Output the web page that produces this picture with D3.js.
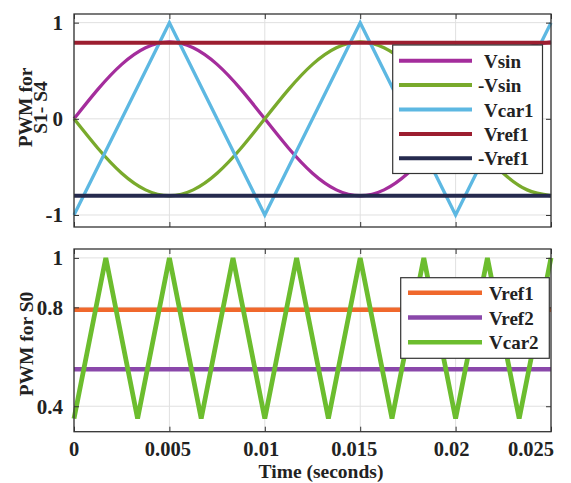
<!DOCTYPE html>
<html><head><meta charset="utf-8">
<script src="https://cdn.jsdelivr.net/npm/d3@7"></script>
<style>
html,body{margin:0;padding:0;background:#fff;}
svg{display:block;}
text{font-family:"Liberation Serif","Times New Roman",serif;font-weight:bold;fill:#222;}
</style></head>
<body>
<svg id="chart" width="571" height="483"></svg>
<script>
// ---- data ----
const sinTimes = [0,0.00125,0.0025,0.00375,0.005,0.00625,0.0075,0.00875,0.01,0.01125,0.0125,0.01375,0.015,0.01625,0.0175,0.01875,0.02,0.02125,0.0225,0.02375,0.025];
const vsinValues = [0,0.306,0.566,0.739,0.8,0.739,0.566,0.306,0,-0.306,-0.566,-0.739,-0.8,-0.739,-0.566,-0.306,0,0.306,0.566,0.739,0.8];
const negVsinValues = [0,-0.306,-0.566,-0.739,-0.8,-0.739,-0.566,-0.306,0,0.306,0.566,0.739,0.8,0.739,0.566,0.306,0,-0.306,-0.566,-0.739,-0.8];
const car1Times = [0,0.005,0.01,0.015,0.02,0.025];
const car1Values = [-1,1,-1,1,-1,1];
const vref1Top = 0.79;
const negVref1Top = -0.8;
const car2Times = [0,0.001667,0.003333,0.005,0.006667,0.008333,0.01,0.011667,0.013333,0.015,0.016667,0.018333,0.02,0.021667,0.023333,0.025];
const car2Values = [0.35,1,0.35,1,0.35,1,0.35,1,0.35,1,0.35,1,0.35,1,0.35,1];
const vref1Bottom = 0.79;
const vref2Bottom = 0.55;
const xTicks = [0,0.005,0.01,0.015,0.02,0.025];
const xTickLabels = ["0","0.005","0.01","0.015","0.02","0.025"];
const topYTicks = [-1,0,1];
const topYTickLabels = ["-1","0","1"];
const botYTicks = [0.4,0.8,1];
const botYTickLabels = ["0.4","0.8","1"];
const topLegendNames = ["Vsin","-Vsin","Vcar1","Vref1","-Vref1"];
const botLegendNames = ["Vref1","Vref2","Vcar2"];
const xTitle = "Time (seconds)";
const topYTitle = ["PWM for","S1- S4"];
const botYTitle = "PWM for S0";

// ---- layout ----
const svg = d3.select("#chart");
const L = 74, R = 551;
const x = d3.scaleLinear().domain([0,0.025]).range([L,R]);
const yTop = d3.scaleLinear().domain([-1.125,1.09]).range([227,14]);
const yBot = d3.scaleLinear().domain([0.297,1.036]).range([431.7,249]);

const colors = {
  vsin:"#a42d9c", nvsin:"#79aa2c", car1:"#5db8e2", vref1:"#9c1e30", nvref1:"#252a4e",
  bref1:"#f0682c", bref2:"#8a48aa", car2:"#6cbd2e"
};

function panel(y, yTicks, y0, y1){
  const g = svg.append("g");
  g.selectAll(".gx").data(xTicks).enter().append("line")
    .attr("x1",d=>x(d)).attr("x2",d=>x(d)).attr("y1",y0).attr("y2",y1)
    .attr("stroke","#e0e0e0").attr("stroke-width",1);
  g.selectAll(".gy").data(yTicks).enter().append("line")
    .attr("x1",L).attr("x2",R).attr("y1",d=>y(d)).attr("y2",d=>y(d))
    .attr("stroke","#e0e0e0").attr("stroke-width",1);
  return g;
}
function frame(y, yTicks, yLabels, y0, y1, showX){
  const g = svg.append("g");
  const tl = 5;
  g.append("g").attr("transform",`translate(0,${y1})`).call(d3.axisBottom(x).tickValues(xTicks).tickSize(-tl).tickFormat(""));
  g.append("g").attr("transform",`translate(0,${y0})`).call(d3.axisTop(x).tickValues(xTicks).tickSize(-tl).tickFormat(""));
  g.append("g").attr("transform",`translate(${L},0)`).call(d3.axisLeft(y).tickValues(yTicks).tickSize(-tl).tickFormat(""));
  g.append("g").attr("transform",`translate(${R},0)`).call(d3.axisRight(y).tickValues(yTicks).tickSize(-tl).tickFormat(""));
  g.selectAll(".domain").remove();
  g.selectAll(".tick line").attr("stroke","#333").attr("stroke-width",1);
  g.append("rect").attr("x",L).attr("y",y0).attr("width",R-L).attr("height",y1-y0)
    .attr("fill","none").attr("stroke","#333").attr("stroke-width",1.3);
  g.selectAll(".yl").data(yTicks).enter().append("text")
    .attr("x",L-11).attr("y",d=>y(d)).attr("dy","0.35em")
    .attr("text-anchor","end").attr("font-size",21)
    .text((d,i)=>yLabels[i]);
  if(showX){
    const dxs = [0,-1.5,-3.5,-6,-4,-20];
    g.selectAll(".xl").data(xTicks).enter().append("text")
      .attr("x",(d,i)=>x(d)+dxs[i]).attr("y",y1+24.5)
      .attr("text-anchor","middle").attr("font-size",20.5)
      .text((d,i)=>xTickLabels[i]);
  }
}

// ---- top panel ----
panel(yTop, topYTicks, 14, 227);
const gt = svg.append("g");
const sinLine = (vals)=>d3.line().curve(d3.curveNatural).x((d,i)=>x(sinTimes[i])).y(d=>yTop(d))(vals);
const polyTop = (ts,vals)=>d3.line().x((d,i)=>x(ts[i])).y(d=>yTop(d))(vals);
gt.append("path").attr("d",sinLine(vsinValues)).attr("fill","none").attr("stroke",colors.vsin).attr("stroke-width",3.3);
gt.append("path").attr("d",sinLine(negVsinValues)).attr("fill","none").attr("stroke",colors.nvsin).attr("stroke-width",3.3);
gt.append("path").attr("d",polyTop(car1Times,car1Values)).attr("fill","none").attr("stroke",colors.car1).attr("stroke-width",3.3).attr("stroke-linejoin","miter");
gt.append("line").attr("x1",x(0)).attr("x2",x(0.025)).attr("y1",yTop(vref1Top)).attr("y2",yTop(vref1Top)).attr("stroke",colors.vref1).attr("stroke-width",4);
gt.append("line").attr("x1",x(0)).attr("x2",x(0.025)).attr("y1",yTop(negVref1Top)).attr("y2",yTop(negVref1Top)).attr("stroke",colors.nvref1).attr("stroke-width",4);
frame(yTop, topYTicks, topYTickLabels, 14, 227, false);

// top legend
const tlg = svg.append("g");
tlg.append("rect").attr("x",392.7).attr("y",45).attr("width",149.8).attr("height",128.5)
  .attr("fill","#fff").attr("stroke","#333").attr("stroke-width",1.2);
const topLegColors = [colors.vsin,colors.nvsin,colors.car1,colors.vref1,colors.nvref1];
topLegendNames.forEach((n,i)=>{
  const yy = 60.7 + i*24.4;
  tlg.append("line").attr("x1",399).attr("x2",472).attr("y1",yy).attr("y2",yy)
    .attr("stroke",topLegColors[i]).attr("stroke-width",4);
  tlg.append("text").attr("x",n.startsWith("-")?478:484).attr("y",yy+7)
    .attr("font-size",19).text(n);
});

// top y title
svg.append("text").attr("font-size",19.5).attr("text-anchor","middle")
  .attr("transform","translate(32,107.5) rotate(-90)").text(topYTitle[0]);
svg.append("text").attr("font-size",19.5).attr("text-anchor","middle")
  .attr("transform","translate(47,107.5) rotate(-90)").text(topYTitle[1]);

// ---- bottom panel ----
panel(yBot, botYTicks, 249, 431.7);
const gb = svg.append("g");
gb.append("line").attr("x1",x(0)).attr("x2",x(0.025)).attr("y1",yBot(vref1Bottom)).attr("y2",yBot(vref1Bottom)).attr("stroke",colors.bref1).attr("stroke-width",4.5);
gb.append("line").attr("x1",x(0)).attr("x2",x(0.025)).attr("y1",yBot(vref2Bottom)).attr("y2",yBot(vref2Bottom)).attr("stroke",colors.bref2).attr("stroke-width",4.5);
gb.append("path").attr("d",d3.line().x((d,i)=>x(car2Times[i])).y(d=>yBot(d))(car2Values))
  .attr("fill","none").attr("stroke",colors.car2).attr("stroke-width",4.8).attr("stroke-linejoin","miter");
frame(yBot, botYTicks, botYTickLabels, 249, 431.7, true);

// bottom legend
const blg = svg.append("g");
blg.append("rect").attr("x",400.7).attr("y",277.7).attr("width",148.6).attr("height",80.6)
  .attr("fill","#fff").attr("stroke","#333").attr("stroke-width",1.2);
const botLegColors = [colors.bref1,colors.bref2,colors.car2];
botLegendNames.forEach((n,i)=>{
  const yy = 292.7 + i*24.8;
  blg.append("line").attr("x1",408).attr("x2",482).attr("y1",yy).attr("y2",yy)
    .attr("stroke",botLegColors[i]).attr("stroke-width",4.5);
  blg.append("text").attr("x",489).attr("y",yy+7).attr("font-size",19).text(n);
});

svg.append("text").attr("font-size",19.5).attr("text-anchor","middle")
  .attr("transform","translate(33,344) rotate(-90)").text(botYTitle);

// x title
svg.append("text").attr("x",321).attr("y",477.5).attr("text-anchor","middle")
  .attr("font-size",19.5).text(xTitle);
</script>
</body></html>
